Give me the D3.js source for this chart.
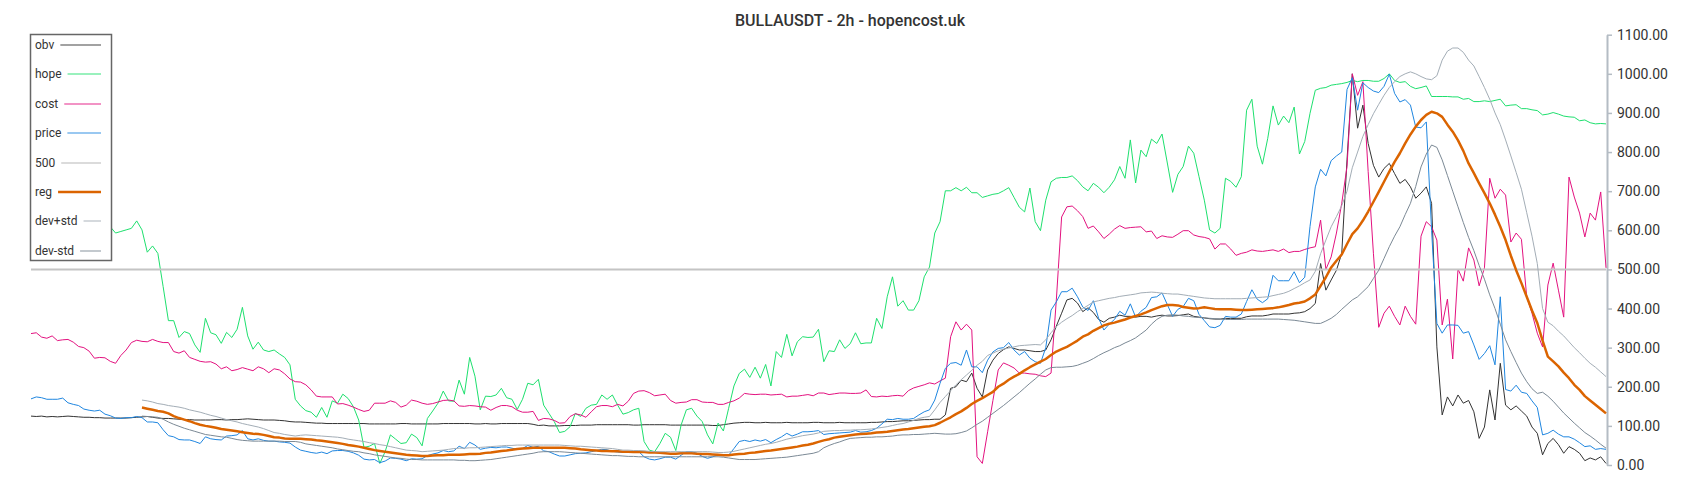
<!DOCTYPE html>
<html><head><meta charset="utf-8">
<script src="https://cdn.jsdelivr.net/npm/d3@7"></script>
<style>body{margin:0;background:#fff;} svg text{font-family:Roboto, "DejaVu Sans", sans-serif;}</style>
</head><body>
<svg id="c" width="1700" height="500"></svg>
<script>
const title = "BULLAUSDT - 2h - hopencost.uk";
const yTicks = [0,100,200,300,400,500,600,700,800,900,1000,1100];
const legendNames = ["obv","hope","cost","price","500","reg","dev+std","dev-std"];
const level500 = 500;
const bandStart = 21;

const obv = [125,124,125,123,124,123,124,125,124,123,122,122,121,121,120,120,120,120,120,121,122,123,124,122,120,119,119,118,117,116,116,115,115,115,115,116,116,115,116,116,117,118,117,116,115,115,115,114,113,111,110,
110,109,108,107,107,106,106,106,106,106,106,106,106,105,105,105,105,105,105,106,106,105,105,105,105,105,105,106,106,106,106,106,106,105,105,106,105,105,106,106,106,106,106,106,104,101,102,100,100,100,
101,101,101,102,102,102,103,103,103,103,103,103,103,102,102,103,103,103,103,103,102,102,102,102,102,102,102,102,101,101,103,105,107,108,109,109,108,108,109,108,108,108,109,108,108,108,108,109,109,
108,108,108,109,108,108,108,108,108,109,109,110,111,111,112,113,113,114,115,116,116,117,117,128,196,200,217,213,235,196,174,243,268,285,295,302,298,294,294,292,290,290,294,320,355,388,422,426,414,392,
402,390,372,365,375,378,383,380,380,378,380,380,378,381,383,381,381,382,384,386,380,378,376,374,373,373,375,374,375,375,379,381,381,381,383,386,386,386,386,388,389,392,400,413,515,447,473,498,541,780,
1000,861,920,822,766,736,758,771,745,720,730,711,682,695,711,669,302,128,174,151,179,158,165,136,68,97,192,115,260,153,141,151,138,125,97,81,26,55,68,52,30,47,40,30,11,18,13,21,4];

const hope = [615,622,630,625,618,628,640,633,625,618,612,605,610,603,598,609,
593,597,601,605,624,601,544,560,541,456,
369,369,326,341,336,307,288,375,338,333,311,339,326,347,403,330,296,314,294,290,294,284,275,256,168,
151,139,135,122,147,122,164,158,181,170,149,115,45,48,55,4,34,77,66,55,57,79,70,49,119,138,158,189,164,163,217,181,275,227,141,176,175,179,196,172,168,142,168,209,205,219,153,132,111,
83,86,98,132,124,145,153,155,179,168,179,153,130,134,141,145,60,38,34,55,81,71,37,102,141,145,125,111,77,54,107,87,145,202,234,245,224,250,222,257,202,290,275,334,279,315,328,326,327,347,264,
292,290,
320,298,310,338,310,312,312,375,349,430,481,406,420,396,396,420,481,506,593,622,701,701,709,701,710,696,696,684,688,692,694,701,709,684,659,647,708,622,599,677,724,733,735,735,739,727,711,701,720,710,696,710,729,
763,733,831,721,805,788,833,822,846,772,697,743,763,815,797,737,677,601,593,605,733,725,710,737,907,935,815,769,835,918,869,892,875,915,795,827,899,958,963,965,971,973,975,978,983,980,983,983,981,981,988,1000,983,978,980,968,962,965,
969,942,942,942,942,941,941,935,937,929,929,931,929,932,935,918,920,921,911,911,908,906,895,897,901,897,892,890,889,880,882,875,872,873,872];

const cost = [336,338,327,324,330,318,320,321,314,303,300,291,273,275,274,265,260,280,294,313,319,316,315,321,316,313,313,290,286,292,275,270,265,263,264,258,246,251,241,244,249,245,241,251,246,236,246,243,233,220,213,
212,205,192,176,174,174,174,156,157,153,148,142,137,140,158,158,158,164,160,148,153,166,163,158,155,157,161,165,166,164,151,150,152,151,149,148,140,147,152,152,149,140,135,135,137,114,119,118,114,107,
108,124,131,128,122,136,149,152,152,149,155,151,163,183,189,190,185,177,179,181,165,158,160,161,167,167,161,160,160,155,155,160,164,171,183,181,180,181,181,179,180,181,174,176,176,178,180,177,184,
184,180,182,184,184,183,183,184,192,175,174,176,175,177,178,176,190,197,201,205,210,207,215,222,328,366,345,360,345,21,4,85,165,243,261,255,248,235,235,233,232,228,226,235,422,634,660,662,650,635,
605,611,596,579,590,603,612,605,607,608,609,596,598,579,586,583,582,590,599,599,588,584,582,578,552,565,565,552,536,541,544,550,547,546,548,550,546,552,543,546,546,551,555,558,626,500,532,593,669,763,
1000,945,980,750,540,352,388,406,380,358,406,380,360,585,622,609,575,358,424,271,501,470,555,524,458,504,733,682,705,690,570,593,577,430,388,337,302,460,516,447,378,736,685,644,583,644,626,698,504];

const price = [169,174,172,168,168,168,171,159,155,152,143,140,138,140,130,126,120,119,121,121,124,121,110,110,108,90,75,72,65,64,64,60,55,72,67,65,64,74,75,77,88,67,64,67,63,61,61,59,58,56,
46,
38,35,32,30,33,29,36,37,37,35,31,25,15,13,14,6,10,18,17,15,11,16,15,16,24,28,31,37,34,36,48,42,58,51,40,43,45,44,46,46,43,40,42,50,45,48,36,34,28,23,
23,26,29,30,31,34,37,40,39,35,33,32,32,34,34,21,15,13,16,20,20,15,25,34,34,30,22,17,21,26,24,25,42,60,63,60,64,61,65,57,65,72,81,74,79,85,85,86,88,
78,80,81,82,83,84,88,84,85,88,94,105,117,116,119,117,117,119,128,136,141,166,209,247,260,262,255,294,251,251,236,268,289,298,300,313,294,281,290,273,264,260,300,396,417,443,443,452,430,404,
395,420,375,345,360,372,393,383,412,378,393,403,428,430,440,410,380,398,405,426,420,385,369,353,351,357,380,378,378,386,418,448,424,415,425,485,471,471,471,494,466,480,610,711,756,739,778,790,800,960,
990,907,977,965,956,952,968,999,950,928,934,920,864,862,877,600,362,337,358,358,357,337,341,307,270,285,305,256,430,193,189,204,186,183,164,147,77,81,89,79,72,72,66,57,47,49,40,42,40];

const reg = [147,144,141,138,136,132,125,120,116,112,107,103,100,98,95,92,90,88,86,84,82,80,79,77,74,71,70,68,67,67,
67,66,65,63,62,60,58,56,54,51,49,47,44,41,38,36,34,32,30,28,26,25,24,23,23,24,25,25,26,26,26,27,28,28,29,31,32,34,36,37,39,41,42,43,44,44,44,44,44,44,
44,43,42,40,39,38,37,36,36,35,35,34,34,33,33,33,32,32,31,30,29,29,30,30,30,29,28,28,27,26,25,25,27,28,29,31,32,34,36,37,39,41,43,45,47,50,52,55,59,
63,66,70,72,74,76,78,79,80,81,83,84,85,87,89,91,92,94,96,98,99,102,108,115,122,130,137,146,156,164,171,179,187,200,208,218,226,233,242,250,257,264,271,281,290,296,302,310,318,328,
334,343,350,357,361,364,368,372,377,381,385,390,396,401,406,409,409,408,404,402,400,401,403,401,399,398,398,398,397,396,396,397,398,399,400,401,403,406,409,413,415,418,426,436,458,480,505,522,538,565,590,
605,625,648,673,698,724,750,775,797,822,845,865,882,895,903,899,890,870,852,830,803,771,746,720,695,669,640,609,575,535,498,465,430,395,363,318,277,265,252,236,222,205,192,176,165,154,143,132];

const devPlus = [166,164,161,157,155,152,150,148,145,141,138,135,131,127,124,120,116,113,110,106,103,100,97,93,88,83,81,78,76,74,
76,77,76,75,74,73,72,71,69,66,64,62,60,57,55,52,50,47,44,41,38,37,36,34,35,36,37,38,40,42,43,43,44,44,45,46,47,48,49,50,50,51,51,51,51,51,51,51,51,51,
50,49,48,48,47,46,45,44,43,42,40,38,38,37,37,36,35,34,34,34,34,34,34,34,34,34,34,34,33,32,32,33,35,38,41,44,47,50,53,55,58,62,66,69,72,75,77,79,82,
86,87,88,88,89,89,90,90,91,92,94,96,98,101,104,106,110,114,119,122,124,141,160,175,190,205,218,230,242,255,265,280,286,292,296,299,302,305,306,307,308,307,320,338,354,365,374,382,392,400,
408,417,420,423,426,428,431,433,435,437,440,441,442,441,439,438,437,437,435,433,431,429,427,426,425,425,425,425,425,425,426,427,428,429,430,433,436,439,444,451,458,466,473,495,540,575,609,635,663,700,760,
800,840,870,898,922,945,965,980,993,1000,1005,1000,993,987,985,995,1035,1058,1066,1066,1055,1035,1020,993,965,935,900,870,831,790,748,705,645,585,515,400,365,356,342,330,315,300,287,273,260,250,238,226];

const devMinus = [125,124,123,122,117,110,104,99,94,90,86,82,78,76,74,72,71,68,65,63,62,61,61,61,61,61,61,60,60,60,
58,54,52,50,48,46,44,41,39,37,35,34,31,29,26,24,22,20,18,17,15,14,14,13,13,13,13,13,13,13,12,12,11,11,12,13,14,16,18,20,22,24,26,28,30,33,34,34,34,34,
33,32,31,30,29,28,27,26,25,24,24,23,22,22,21,21,21,21,21,21,21,21,21,21,21,21,21,21,21,21,20,18,16,14,14,14,14,15,16,17,18,19,20,22,24,26,28,30,34,
44,50,55,59,64,68,69,70,71,71,72,72,73,74,76,77,77,78,78,79,80,81,80,79,79,80,83,87,95,104,112,122,132,142,152,163,174,185,197,209,220,232,243,249,250,250,251,252,255,260,
265,272,280,287,293,300,305,312,318,325,335,345,360,372,380,383,384,383,381,380,378,377,376,375,374,373,372,372,372,372,373,373,373,373,373,373,373,372,371,370,368,366,364,362,362,368,375,385,398,410,422,
430,443,456,477,498,528,558,585,609,640,669,712,762,795,818,812,780,740,700,660,620,582,548,510,475,435,400,360,320,290,262,235,213,195,183,186,176,163,148,133,120,107,95,83,74,64,53,43];

const N = price.length;
const svg = d3.select("#c");
const x = d3.scaleLinear().domain([0, N - 1]).range([31, 1606]);
const y = d3.scaleLinear().domain([0, 1100]).range([465, 34.7]);

// title
svg.append("text").attr("x", 850).attr("y", 20).attr("text-anchor", "middle")
  .attr("dominant-baseline", "central").attr("fill", "#333")
  .style("font-size", "16px").style("font-weight", "500").text(title);

// right axis
const ax = svg.append("g").attr("transform", "translate(1607,0)")
  .call(d3.axisRight(y).tickValues(yTicks).tickFormat(d3.format(".2f")).tickSize(5).tickSizeOuter(0).tickPadding(5));
ax.select(".domain").attr("stroke", "#b4bcc4").attr("stroke-width", 2);
ax.selectAll(".tick line").attr("stroke", "#b4bcc4").attr("stroke-width", 1.5);
ax.selectAll(".tick text").attr("fill", "#333").style("font-size", "14px").style("font-family", "Roboto");

const series = [
  {name: "obv", data: obv, start: 0, color: "#333333", w: 1},
  {name: "hope", data: hope, start: 0, color: "#1ee06e", w: 1},
  {name: "cost", data: cost, start: 0, color: "#e3127f", w: 1},
  {name: "price", data: price, start: 0, color: "#1f86e0", w: 1},
  {name: "500", data: null, start: 0, color: "#c4c4c4", w: 2},
  {name: "reg", data: reg, start: bandStart, color: "#db6400", w: 2.5},
  {name: "dev+std", data: devPlus, start: bandStart, color: "#a3adb6", w: 1},
  {name: "dev-std", data: devMinus, start: bandStart, color: "#7b8995", w: 1}
];

const plot = svg.append("g");
series.forEach(s => {
  if (s.data === null) {
    plot.append("line").attr("x1", x(0)).attr("x2", x(N - 1))
      .attr("y1", y(level500)).attr("y2", y(level500))
      .attr("stroke", s.color).attr("stroke-width", s.w);
    return;
  }
  const line = d3.line().x((d, i) => x(i + s.start)).y(d => y(d));
  plot.append("path").datum(s.data).attr("d", line)
    .attr("fill", "none").attr("stroke", s.color).attr("stroke-width", s.w)
    .attr("stroke-linejoin", "round");
});

// legend
const lg = svg.append("g");
lg.append("rect").attr("x", 30.5).attr("y", 34.5).attr("width", 81).attr("height", 226)
  .attr("fill", "#fff").attr("stroke", "#666").attr("stroke-width", 1.5);
series.forEach((s, i) => {
  const ly = Math.round(45 + i * 29.4);
  const t = lg.append("text").attr("x", 35).attr("y", ly).attr("dominant-baseline", "central")
    .attr("fill", "#333").style("font-size", "12px").text(legendNames[i]);
  const tw = t.node().getComputedTextLength();
  lg.append("line").attr("x1", 35 + tw + 6).attr("x2", 101).attr("y1", ly).attr("y2", ly)
    .attr("stroke", s.color).attr("stroke-width", s.name === "reg" ? 2.5 : (s.name === "500" ? 2 : 1.5))
    .attr("opacity", s.name === "reg" ? 1 : 0.6);
});
</script>
</body></html>
